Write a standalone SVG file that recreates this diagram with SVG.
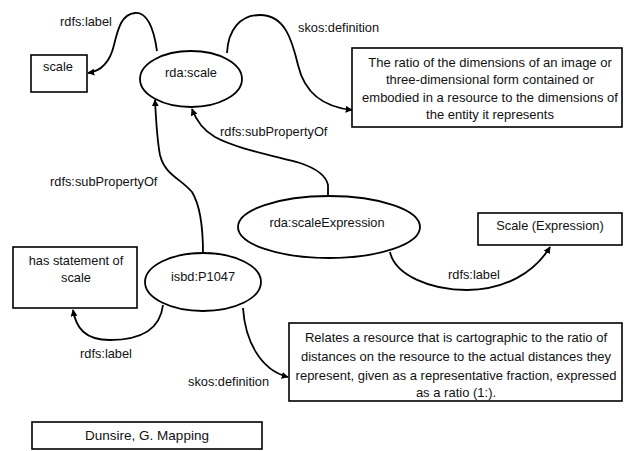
<svg xmlns="http://www.w3.org/2000/svg" width="624" height="451" viewBox="0 0 624 451">
<defs>
<marker id="arr" viewBox="0 0 10 10" refX="9" refY="5" markerWidth="7" markerHeight="7" orient="auto" markerUnits="userSpaceOnUse">
<path d="M0,0 L10,5 L0,10 z" fill="#000"/>
</marker>
<style>
.box{fill:#fff;stroke:#000;stroke-width:1.6}
.ell{fill:#fff;stroke:#000;stroke-width:1.8}
.edge{fill:none;stroke:#000;stroke-width:1.8;marker-end:url(#arr)}
text{font-family:"Liberation Sans",Arial,sans-serif;fill:#111}
.t{font-size:12.8px}
.c{text-anchor:middle}
.d{font-size:13px;text-anchor:middle}
.a{font-family:"Liberation Sans",Arial,sans-serif;font-size:13.5px;text-anchor:middle}
</style>
</defs>
<rect width="624" height="451" fill="#fff"/>
<g id="connectors">
<path class="edge" d="M157,51 C154,30 148,12 135,13 C122,14 118,28 114,45 C110,62 102,71 88,73"/>
<path class="edge" d="M227,53 C228,30 240,15 260,15 C285,15 292,40 298,65 C305,95 325,107 352,110"/>
<path class="edge" d="M328,197 L328,185 C326,175 315,168 300,163 C270,155 235,148 215,137 C203,130 196,120 192,109"/>
<path class="edge" d="M203,253 C203,230 200,205 192,192 C180,178 165,175 160,155 C157,140 156,120 155,100"/>
<path class="edge" d="M390,252 C395,275 430,290 467,290 C505,290 535,272 550,247"/>
<path class="edge" d="M163,305 C160,330 140,340 110,340 C85,340 76,328 73,310"/>
<path class="edge" d="M243,308 C245,340 260,370 288,377"/>
<text class="t" x="60" y="26">rdfs:label</text>
<text class="t" x="298" y="32">skos:definition</text>
<text class="t" x="220" y="136">rdfs:subPropertyOf</text>
<text class="t" x="50" y="186">rdfs:subPropertyOf</text>
<text class="t" x="448" y="279">rdfs:label</text>
<text class="t" x="80" y="358">rdfs:label</text>
<text class="t" x="188" y="386">skos:definition</text>
</g>
<g id="scale">
<rect class="box" x="31" y="55" width="56" height="37"/>
<text class="t c" x="58" y="71">scale</text>
</g>
<g id="rda-scale">
<ellipse class="ell" cx="191" cy="79" rx="51" ry="28"/>
<text class="t c" x="191" y="77">rda:scale</text>
</g>
<g id="def1">
<rect class="box" x="352" y="48" width="270" height="79"/>
<text class="d" x="490" y="67">The ratio of the dimensions of an image or</text>
<text class="d" x="490" y="84">three-dimensional form contained or</text>
<text class="d" x="490" y="102">embodied in a resource to the dimensions of</text>
<text class="d" x="490" y="119">the entity it represents</text>
</g>
<g id="rda-scaleExpression">
<ellipse class="ell" cx="329" cy="227" rx="91" ry="31"/>
<text class="t c" x="327" y="227">rda:scaleExpression</text>
</g>
<g id="scale-expression">
<rect class="box" x="478" y="213" width="144" height="32"/>
<text class="t c" x="550" y="230">Scale (Expression)</text>
</g>
<g id="has-statement">
<rect class="box" x="13" y="247" width="124" height="61"/>
<text class="t c" x="76" y="265">has statement of</text>
<text class="t c" x="76" y="282">scale</text>
</g>
<g id="isbd-P1047">
<ellipse class="ell" cx="203" cy="282" rx="58" ry="29"/>
<text class="t c" x="203" y="281">isbd:P1047</text>
</g>
<g id="def2">
<rect class="box" x="289" y="323" width="333" height="78"/>
<text class="d" x="456" y="342">Relates a resource that is cartographic to the ratio of</text>
<text class="d" x="456" y="361">distances on the resource to the actual distances they</text>
<text class="d" x="456" y="380">represent, given as a representative fraction, expressed</text>
<text class="d" x="456" y="397">as a ratio (1:).</text>
</g>
<g id="dunsire">
<rect class="box" x="32" y="422" width="230" height="27"/>
<text class="a" x="147" y="440">Dunsire, G. Mapping</text>
</g>
</svg>
